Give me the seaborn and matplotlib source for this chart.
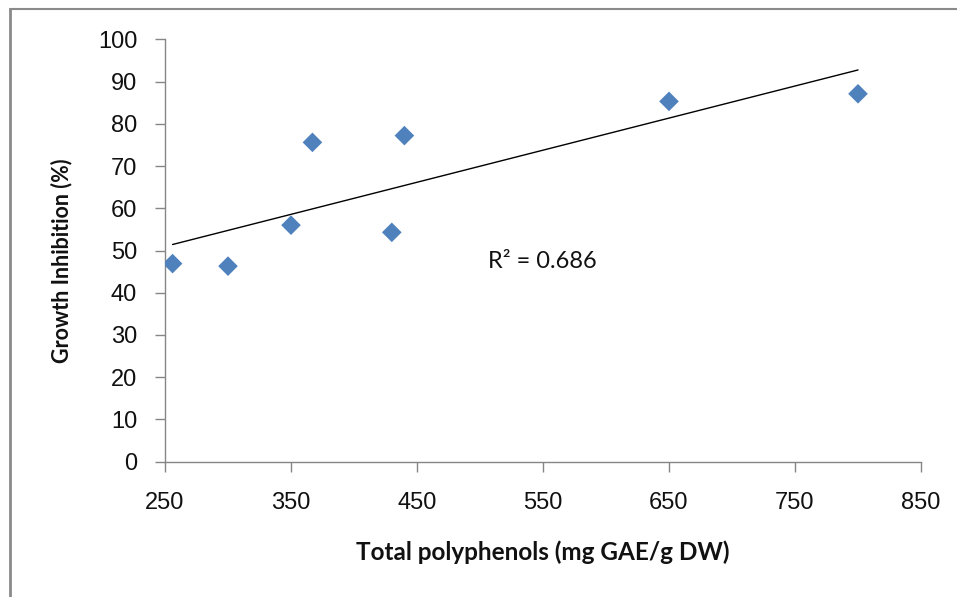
import matplotlib
matplotlib.use("Agg")
import matplotlib.pyplot as plt
import seaborn as sns
import pandas as pd
from matplotlib.lines import Line2D

# Data
polyphenols = [256, 300, 350, 367, 430, 440, 650, 800]
inhibition = [46.9, 46.3, 56.0, 75.6, 54.3, 77.2, 85.3, 87.1]
x_ticks = [250, 350, 450, 550, 650, 750, 850]
y_ticks = [0, 10, 20, 30, 40, 50, 60, 70, 80, 90, 100]
r2_label = "R² = 0.686"

df = pd.DataFrame({"x": polyphenols, "y": inhibition})

sns.set_theme(style="white")
plt.rcParams['font.family'] = ['Liberation Sans', 'DejaVu Sans']

fig = plt.figure(figsize=(9.57, 5.97), dpi=100)
ax = fig.add_axes([165 / 957, 1 - 461.7 / 597, 756 / 957, (461.7 - 39.3) / 597])

sns.regplot(data=df, x="x", y="y", ax=ax, ci=None, truncate=True,
            marker="D",
            scatter_kws=dict(s=100, color="#4F81BD", edgecolor="none", alpha=1, zorder=3),
            line_kws=dict(color="black", lw=1.0, zorder=2))

ax.set_xlim(250, 850)
ax.set_ylim(0, 100)
ax.set_xticks(x_ticks)
ax.set_yticks(y_ticks)

for s in ["top", "right"]:
    ax.spines[s].set_visible(False)
for s in ["left", "bottom"]:
    ax.spines[s].set_color("#868686")
    ax.spines[s].set_linewidth(1.0)

ax.tick_params(axis="both", which="major", direction="out", length=7, width=1,
               color="#868686", labelsize=17, labelcolor="#111111",
               bottom=True, left=True)
ax.tick_params(axis="x", pad=15)
ax.tick_params(axis="y", pad=13)

label_font = ['Lato', 'DejaVu Sans']
ax.set_xlabel("Total polyphenols (mg GAE/g DW)", fontsize=17.5, fontweight="bold",
              family=label_font, labelpad=19, color="#111111")
ax.set_ylabel("Growth Inhibition (%)", fontsize=15.5, fontweight="bold",
              family=label_font, color="#111111")
ax.yaxis.set_label_coords(-0.123, 0.475)

ax.text(506, 47.5, r2_label, fontsize=17, va="center", ha="left",
        family=label_font, color="#111111")

# Outer chart frame (left and top edges visible)
fig.add_artist(Line2D([10 / 957, 10 / 957], [0, 1 - 9 / 597], transform=fig.transFigure,
                      color="#8a8a8a", lw=2))
fig.add_artist(Line2D([10 / 957, 1], [1 - 9 / 597, 1 - 9 / 597], transform=fig.transFigure,
                      color="#8a8a8a", lw=1.5))

fig.savefig("out.png", dpi=100)
